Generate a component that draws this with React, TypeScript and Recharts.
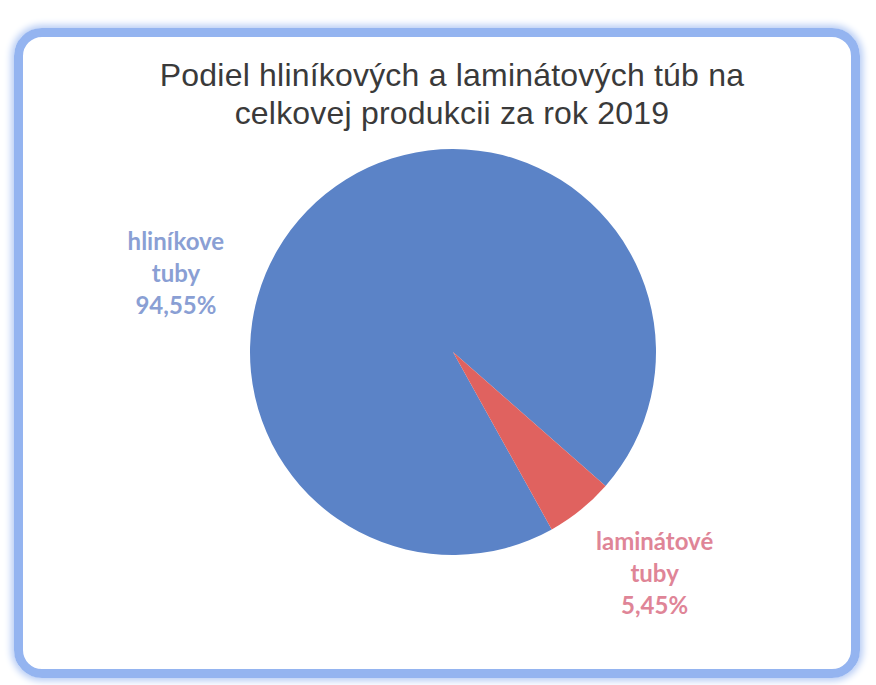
import React from 'react';
import { PieChart, Pie, Cell } from 'recharts';

const categories = ['hliníkove tuby', 'laminátové tuby'];
const shares = [94.55, 5.45];
const shareLabels = ['94,55%', '5,45%'];
const titleLines = ['Podiel hliníkových a laminátových túb na', 'celkovej produkcii za rok 2019'];

const sliceColors = ['#5b83c7', '#e0625f'];
const labelColors = ['#8a9fd4', '#df8597'];

const data = categories.map((name, i) => ({ name, value: shares[i], label: shareLabels[i] }));

const RAD = Math.PI / 180;

// label placement: angle (deg, ccw from 3 o'clock) and distance as share of radius
const labelPlace = [
  { angle: 164, dist: 1.42 },
  { angle: -47.5, dist: 1.47 },
];

const renderLabel = (props: any) => {
  const { cx, cy, outerRadius, index } = props;
  const p = labelPlace[index];
  const r = outerRadius * p.dist;
  const x = cx + r * Math.cos(p.angle * RAD);
  const y = cy - r * Math.sin(p.angle * RAD);
  const words = categories[index].split(' ');
  const lines = [words[0], words[1], shareLabels[index]];
  return (
    <text
      x={x}
      y={y}
      fill={labelColors[index]}
      textAnchor="middle"
      fontFamily="Lato, 'Open Sans', sans-serif"
      fontWeight="bold"
      fontSize={24}
    >
      {lines.map((l, i) => (
        <tspan key={i} x={x} y={y + (i - 1) * 32} dominantBaseline="central">
          {l}
        </tspan>
      ))}
    </text>
  );
};

export default function App() {
  return (
    <div style={{ position: 'absolute', left: 0, top: 0, width: 876, height: 685, background: '#fff', overflow: 'hidden' }}>
      <div
        style={{
          position: 'absolute',
          left: 14,
          top: 28,
          width: 846,
          height: 650,
          boxSizing: 'border-box',
          border: '9px solid #94b4f0',
          borderRadius: 28,
          boxShadow: '0 0 7px 3px #b8cdf5',
        }}
      />
      <div
        style={{
          position: 'absolute',
          left: 0,
          top: 56,
          width: 904,
          textAlign: 'center',
          fontFamily: "'Liberation Sans', Arial, sans-serif",
          fontSize: 32,
          lineHeight: '38px',
          color: '#3a3a3a',
          letterSpacing: 0.2,
        }}
      >
        {titleLines.map((t, i) => (
          <div key={i}>{t}</div>
        ))}
      </div>
      <div style={{ position: 'absolute', left: 0, top: 0 }}>
        <PieChart width={876} height={685}>
          <Pie
            data={data}
            dataKey="value"
            nameKey="name"
            cx={448}
            cy={347}
            outerRadius={203}
            startAngle={-60.9}
            endAngle={-420.9}
            stroke="none"
            label={renderLabel}
            labelLine={false}
            isAnimationActive={false}
          >
            {data.map((d, i) => (
              <Cell key={d.name} fill={sliceColors[i]} />
            ))}
          </Pie>
        </PieChart>
      </div>
    </div>
  );
}
